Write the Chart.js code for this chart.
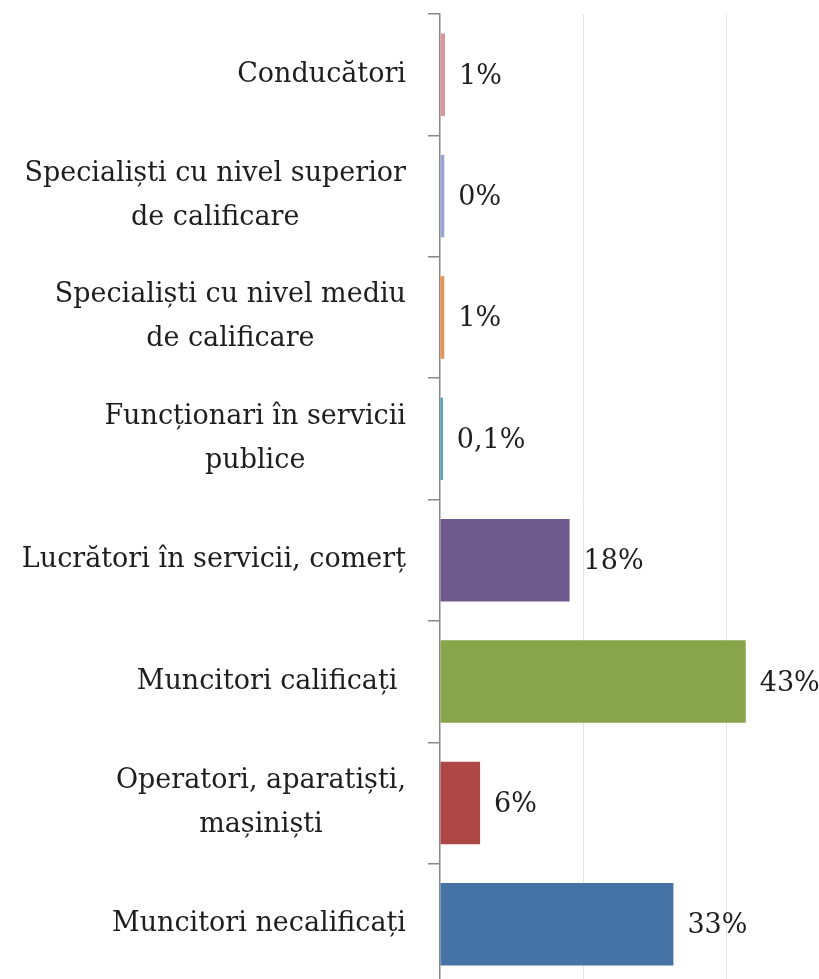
<!DOCTYPE html>
<html>
<head>
<meta charset="utf-8">
<script src="https://cdn.jsdelivr.net/npm/chart.js@4.4.1/dist/chart.umd.min.js"></script>
<style>
html,body{margin:0;padding:0;background:#fff;overflow:hidden;}
#wrap{position:relative;width:819px;height:985px;}
</style>
</head>
<body>
<div id="wrap"><canvas id="c"></canvas></div>
<script>
const categories = [
  ['Conducători'],
  ['Specialiști cu nivel superior', 'de calificare'],
  ['Specialiști cu nivel mediu', 'de calificare'],
  ['Funcționari în servicii', 'publice'],
  ['Lucrători în servicii, comerț'],
  ['Muncitori calificați '],
  ['Operatori, aparatiști,', 'mașiniști'],
  ['Muncitori necalificați']
];
const values = [0.7, 0.6, 0.6, 0.4, 18.1, 42.7, 5.6, 32.6];
const valueLabels = ['1%', '0%', '1%', '0,1%', '18%', '43%', '6%', '33%'];
const barColors = ['#d9979b', '#97a6d2', '#e39556', '#4b9fbb', '#6f5a8d', '#89a54c', '#ac4745', '#4673a6'];
const gridValues = [20, 40];

const FONT = '27px "DejaVu Serif"';

const labelPlugin = {
  id: 'labels',
  afterDatasetsDraw(chart) {
    const ctx = chart.ctx;
    const ys = chart.scales.y;
    const meta = chart.getDatasetMeta(0);
    ctx.save();
    ctx.font = FONT;
    ctx.fillStyle = '#1e1e1e';
    ctx.textBaseline = 'middle';
    const lineH = 44;
    const rightEdge = 406;
    categories.forEach((lines, i) => {
      const cy = ys.getPixelForValue(i);
      let w = 0;
      lines.forEach(l => { w = Math.max(w, ctx.measureText(l).width); });
      const cx = rightEdge - w / 2;
      ctx.textAlign = 'center';
      const y0 = cy - (lines.length - 1) * lineH / 2;
      lines.forEach((l, k) => ctx.fillText(l, cx, y0 + k * lineH));
      const bar = meta.data[i];
      ctx.textAlign = 'left';
      ctx.fillText(valueLabels[i], bar.x + 14, bar.y + 2);
    });
    ctx.restore();
  }
};

new Chart(document.getElementById('c'), {
  type: 'bar',
  data: {
    labels: categories,
    datasets: [{
      data: values,
      backgroundColor: barColors,
      borderWidth: 0,
      barPercentage: 0.68,
      categoryPercentage: 1
    }]
  },
  options: {
    indexAxis: 'y',
    responsive: true,
    maintainAspectRatio: false,
    animation: false,
    layout: { padding: { top: 14, right: 21, bottom: 0, left: 0 } },
    plugins: { legend: { display: false }, tooltip: { enabled: false } },
    scales: {
      x: {
        min: 0, max: 50,
        ticks: { display: false, stepSize: 10 },
        border: { display: false },
        grid: {
          drawTicks: false,
          color: (c) => gridValues.includes(c.tick && c.tick.value) ? '#e4e4e4' : 'rgba(0,0,0,0)',
          lineWidth: 1
        }
      },
      y: {
        ticks: { display: false },
        afterFit: (s) => { s.width = 440; },
        border: { display: true, color: '#878787', width: 1.5 },
        grid: {
          offset: true,
          drawOnChartArea: false,
          drawTicks: true,
          tickLength: 12,
          color: '#878787',
          lineWidth: 1.5
        }
      }
    }
  },
  plugins: [labelPlugin]
});
</script>
</body>
</html>
